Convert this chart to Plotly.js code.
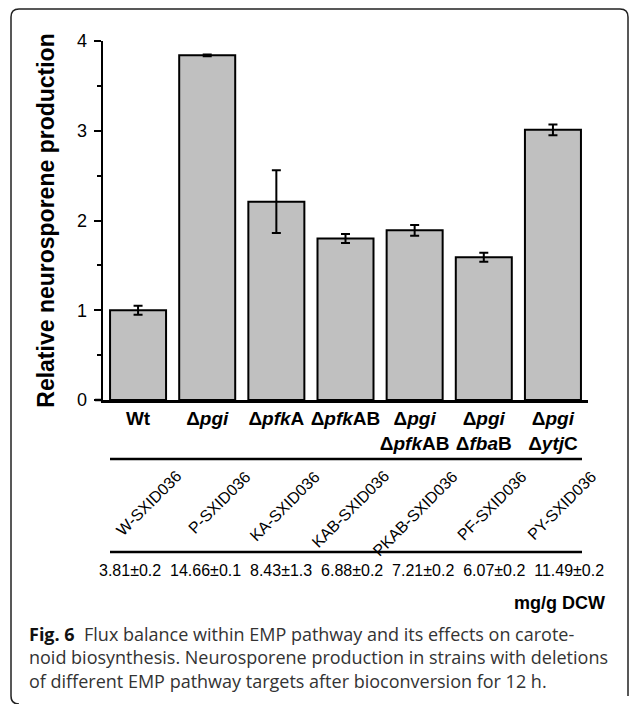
<!DOCTYPE html>
<html>
<head>
<meta charset="utf-8">
<script src="https://cdn.plot.ly/plotly-3.0.1.min.js"></script>
<style>html,body{margin:0;padding:0;background:#fff;}</style>
</head>
<body>
<div id="chart" style="width:629px;height:704px;"></div>
<script>
// ---- data ----
const categories = [
  'Wt',
  'Δ<i>pgi</i>',
  'Δ<i>pfk</i>A',
  'Δ<i>pfk</i>AB',
  'Δ<i>pgi</i><br>Δ<i>pfk</i>AB',
  'Δ<i>pgi</i><br>Δ<i>fba</i>B',
  'Δ<i>pgi</i><br>Δ<i>ytj</i>C'
];
const relProduction = [1.00, 3.84, 2.21, 1.80, 1.89, 1.59, 3.01];
const relError = [0.05, 0.01, 0.35, 0.05, 0.06, 0.05, 0.06];
const strainNames = ['W-SXID036', 'P-SXID036', 'KA-SXID036', 'KAB-SXID036', 'PKAB-SXID036', 'PF-SXID036', 'PY-SXID036'];
const yieldMean = [3.81, 14.66, 8.43, 6.88, 7.21, 6.07, 11.49];
const yieldSD = [0.2, 0.1, 1.3, 0.2, 0.2, 0.2, 0.2];
const yTickVals = [0, 1, 2, 3, 4];
const captionLines = [
  '<b><span style="color:#111">Fig. 6</span></b>\u00A0\u00A0Flux balance within EMP pathway and its effects on carote-',
  'noid biosynthesis. Neurosporene production in strains with deletions',
  'of different EMP pathway targets after bioconversion for 12 h.'
];

// ---- layout helpers (pixel -> paper) ----
const W = 629, H = 704;
const M = {l: 103, r: 41, t: 41, b: 304};
const PW = W - M.l - M.r, PH = H - M.t - M.b;
const XR = [-0.507, 6.507];
const px = x => (x - M.l) / PW;
const py = y => (H - M.b - y) / PH;
const catToPaper = v => (v - XR[0]) / (XR[1] - XR[0]);
const SANS = 'Liberation Sans, Arial, sans-serif';

const trace = {
  type: 'bar',
  x: categories,
  y: relProduction,
  marker: {color: '#c0c0c0', line: {color: '#000', width: 2}},
  error_y: {type: 'data', array: relError, visible: true, color: '#000', thickness: 2, width: 4.5},
  hoverinfo: 'none'
};

const annotations = [];
strainNames.forEach((s, i) => {
  annotations.push({
    text: s, x: catToPaper(i + 0.71), xref: 'paper', y: py(465), yref: 'paper',
    xanchor: 'right', yanchor: 'top', textangle: -45, showarrow: false,
    font: {family: SANS, size: 16, color: '#000'}
  });
});
const yieldText = yieldMean.map((m, i) => m.toFixed(2) + '±' + yieldSD[i].toFixed(1)).join('\u00A0\u00A0');
annotations.push({
  text: yieldText, x: px(351), xref: 'paper', y: py(570), yref: 'paper',
  xanchor: 'center', yanchor: 'middle', showarrow: false,
  font: {family: SANS, size: 16, color: '#000'}
});
annotations.push({
  text: 'mg/g DCW', x: px(607), xref: 'paper', y: py(603), yref: 'paper',
  xanchor: 'right', yanchor: 'middle', showarrow: false,
  font: {family: SANS, size: 18, color: '#000', weight: 'bold'}
});
annotations.push({
  text: captionLines.join('<br>'), x: px(27), xref: 'paper', y: py(657), yref: 'paper',
  xanchor: 'left', yanchor: 'middle', align: 'left', showarrow: false,
  font: {family: 'Open Sans, Noto Sans, sans-serif', size: 18, color: '#333'}
});

// rounded border (left + top + right), corners in pixels
function borderPath() {
  const x0 = 11, x1 = 628, y0 = 9, y1 = 704, r = 8;
  const pts = [
    ['M', x0, y1 - r],
    ['L', x0, y0 + r],
    ['Q', x0, y0, x0 + r, y0],
    ['L', x1 - r, y0],
    ['Q', x1, y0, x1, y0 + r],
    ['L', x1, y1 - r]
  ];
  return pts.map(p => {
    if (p[0] === 'Q') return 'Q ' + px(p[1]) + ',' + py(p[2]) + ' ' + px(p[3]) + ',' + py(p[4]);
    return p[0] + ' ' + px(p[1]) + ',' + py(p[2]);
  }).join(' ');
}
function bottomLeftCorner() {
  return 'M ' + px(11) + ',' + py(696) + ' Q ' + px(11) + ',' + py(704) + ' ' + px(19) + ',' + py(704);
}

const shapes = [
  {type: 'path', xref: 'paper', yref: 'paper', path: borderPath(), line: {color: '#222', width: 1.5}},
  {type: 'path', xref: 'paper', yref: 'paper', path: bottomLeftCorner(), line: {color: '#222', width: 1.5}},
  {type: 'line', xref: 'paper', yref: 'paper', x0: px(95), x1: 0, y0: 0, y1: 0, line: {color: '#000', width: 2.5}},
  {type: 'line', xref: 'paper', yref: 'paper', x0: px(110), x1: px(582), y0: py(459), y1: py(459), line: {color: '#000', width: 2.5}},
  {type: 'line', xref: 'paper', yref: 'paper', x0: px(110), x1: px(582), y0: py(552), y1: py(552), line: {color: '#000', width: 2.5}}
];

const layout = {
  width: W, height: H,
  margin: M,
  paper_bgcolor: '#fff', plot_bgcolor: '#fff',
  showlegend: false,
  bargap: 0.19,
  xaxis: {
    type: 'category',
    range: XR,
    showline: true, linecolor: '#000', linewidth: 2.5,
    ticks: '', showgrid: false, zeroline: false,
    tickangle: 0,
    tickfont: {family: SANS, size: 19, color: '#000', weight: 'bold'},
    automargin: false
  },
  yaxis: {
    range: [0, 4],
    tickvals: yTickVals,
    showline: true, linecolor: '#000', linewidth: 2.5,
    ticks: 'outside', ticklen: 7, tickwidth: 2, tickcolor: '#000',
    ticklabelstandoff: 3,
    minor: {dtick: 0.5, ticks: 'outside', ticklen: 4, tickwidth: 2, tickcolor: '#000', showgrid: false},
    showgrid: false, zeroline: false,
    tickfont: {family: SANS, size: 18, color: '#000'},
    title: {text: 'Relative neurosporene production', standoff: 16,
      font: {family: SANS, size: 23, color: '#000', weight: 'bold'}},
    automargin: false
  },
  annotations: annotations,
  shapes: shapes
};

Plotly.newPlot('chart', [trace], layout, {staticPlot: true, displayModeBar: false});
</script>
</body>
</html>
